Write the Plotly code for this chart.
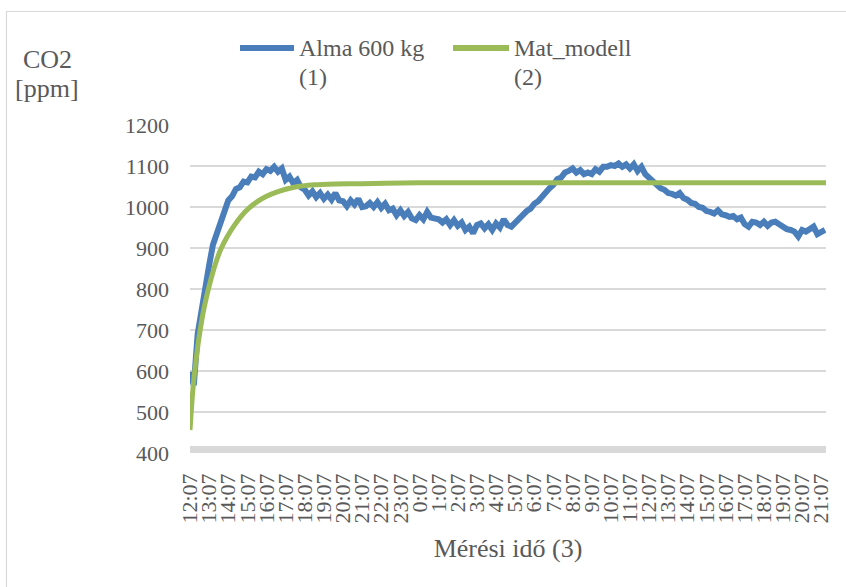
import plotly.graph_objects as go

# ---------------- data ----------------
tick_labels = ["12:07", "13:07", "14:07", "15:07", "16:07", "17:07", "18:07", "19:07",
               "20:07", "21:07", "22:07", "23:07", "0:07", "1:07", "2:07", "3:07",
               "4:07", "5:07", "6:07", "7:07", "8:07", "9:07", "10:07", "11:07",
               "12:07", "13:07", "14:07", "15:07", "16:07", "17:07", "18:07", "19:07",
               "20:07", "21:07"]

# measured CO2 (ppm), one reading every 12 minutes from 12:07
alma_values = [
    598, 565, 690, 752, 818, 858, 908, 934, 970, 994,
    1016, 1026, 1044, 1048, 1062, 1060, 1074, 1072, 1086, 1080,
    1092, 1088, 1098, 1086, 1094, 1066, 1074, 1058, 1066, 1048,
    1042, 1028, 1038, 1024, 1034, 1020, 1030, 1018, 1034, 1016,
    1014, 1002, 1016, 1006, 1020, 1000, 1002, 1010, 1000, 1012,
    998, 1008, 992, 996, 980, 992, 978, 988, 972, 968,
    980, 970, 988, 974, 972, 970, 962, 970, 956, 968,
    954, 962, 944, 952, 936, 956, 960, 948, 958, 944,
    960, 950, 970, 956, 952, 962, 972, 978, 990, 996,
    1008, 1014, 1026, 1034, 1046, 1054, 1068, 1072, 1084, 1088,
    1094, 1084, 1090, 1080, 1084, 1080, 1092, 1086, 1098, 1098,
    1102, 1100, 1106, 1098, 1104, 1094, 1104, 1088, 1098, 1080,
    1072, 1060, 1056, 1046, 1042, 1034, 1032, 1028, 1034, 1022,
    1018, 1010, 1008, 1000, 998, 990, 988, 984, 992, 982,
    980, 976, 978, 970, 974, 958, 952, 964, 962, 956,
    964, 954, 962, 964, 958, 950, 946, 944, 940, 928,
    944, 940, 948, 952, 934, 940, 944,
]
alma_step_hours = 0.2
alma_hours = [i * alma_step_hours for i in range(len(alma_values))]

# model curve (ppm)
model_hours = [0.0, 0.06, 0.12, 0.2, 0.3, 0.42, 0.56, 0.72, 0.91, 1.1, 1.34, 1.62,
               1.95, 2.3, 2.65, 3.05, 3.52, 4.0, 4.56, 5.44, 6.5, 7.6, 9.0, 10.2,
               12.0, 15.0, 20.0, 25.0, 30.0, 33.25]
model_values = [456, 498, 537, 580, 619, 665, 708, 750, 790, 825, 863, 898,
                928, 954, 976, 996, 1013, 1026, 1037, 1048, 1054, 1056, 1057, 1058,
                1059, 1059, 1059, 1059, 1059, 1059]

series_names = ["Alma 600 kg", "Mat_modell"]
series_suffix = ["(1)", "(2)"]
y_ticks = [400, 500, 600, 700, 800, 900, 1000, 1100, 1200]

# ---------------- style ----------------
BLUE = "#4a7ebb"
GREEN = "#9bbb59"
GRID = "#d9d9d9"
TXT = "#595959"
FONT = "Liberation Serif, Times New Roman, DejaVu Serif, serif"

W, H = 846, 587
L, R, T, B = 190, 20, 125, 134
PW, PH = W - L - R, H - T - B


def px_x(x):
    return (x - L) / PW


def px_y(y):
    return (H - B - y) / PH


fig = go.Figure()
fig.add_trace(go.Scatter(x=alma_hours, y=alma_values, mode="lines",
                         line=dict(color=BLUE, width=6), name=series_names[0],
                         showlegend=False))
fig.add_trace(go.Scatter(x=model_hours, y=model_values, mode="lines",
                         line=dict(color=GREEN, width=5, shape="spline", smoothing=0.6),
                         name=series_names[1], showlegend=False))

shapes = []
# thick grey category axis line
shapes.append(dict(type="line", xref="x", yref="y", x0=0, x1=33.25, y0=408, y1=408,
                   line=dict(color=GRID, width=7.5), layer="below"))
# chart border
shapes.append(dict(type="rect", xref="paper", yref="paper",
                   x0=px_x(6.5), x1=px_x(860), y0=px_y(600), y1=px_y(11.5),
                   line=dict(color=GRID, width=1.2), fillcolor="rgba(0,0,0,0)"))
# legend lines
for (x0, x1, col) in [(240, 294, BLUE), (453, 509, GREEN)]:
    shapes.append(dict(type="line", xref="paper", yref="paper",
                       x0=px_x(x0), x1=px_x(x1), y0=px_y(48), y1=px_y(48),
                       line=dict(color=col, width=6)))

annotations = []
for (xt, name, suf) in [(297, series_names[0], series_suffix[0]),
                        (512, series_names[1], series_suffix[1])]:
    annotations.append(dict(xref="paper", yref="paper", x=px_x(xt), y=px_y(48),
                            text=name, showarrow=False, xanchor="left", yanchor="middle",
                            font=dict(family=FONT, size=24, color=TXT)))
    annotations.append(dict(xref="paper", yref="paper", x=px_x(xt), y=px_y(77),
                            text=suf, showarrow=False, xanchor="left", yanchor="middle",
                            font=dict(family=FONT, size=24, color=TXT)))
annotations.append(dict(xref="paper", yref="paper", x=px_x(47), y=px_y(60), text="CO2",
                        showarrow=False, xanchor="center", yanchor="middle",
                        font=dict(family=FONT, size=26, color=TXT)))
annotations.append(dict(xref="paper", yref="paper", x=px_x(47), y=px_y(89), text="[ppm]",
                        showarrow=False, xanchor="center", yanchor="middle",
                        font=dict(family=FONT, size=26, color=TXT)))

fig.update_layout(
    width=W, height=H,
    margin=dict(l=L, r=R, t=T, b=B),
    paper_bgcolor="white", plot_bgcolor="white",
    font=dict(family=FONT, color=TXT),
    shapes=shapes, annotations=annotations,
    xaxis=dict(range=[0, 33.25], tickmode="array", tickvals=list(range(len(tick_labels))),
               ticktext=tick_labels, tickangle=-90, showgrid=False, zeroline=False,
               showline=False, ticks="", ticklabelstandoff=15,
               tickfont=dict(family=FONT, size=22, color=TXT),
               title=dict(text="Mérési idő (3)", standoff=16,
                          font=dict(family=FONT, size=26, color=TXT))),
    yaxis=dict(range=[400, 1200], tickmode="array", tickvals=y_ticks,
               showgrid=True, gridcolor=GRID, gridwidth=1.6, zeroline=False,
               showline=False, ticks="", ticklabelstandoff=20,
               tickfont=dict(family=FONT, size=22, color=TXT)),
)

fig.write_html("out.html",
               config={"displayModeBar": False},
               post_script="document.body.style.margin='0';"
                           "document.body.style.overflow='hidden';")
